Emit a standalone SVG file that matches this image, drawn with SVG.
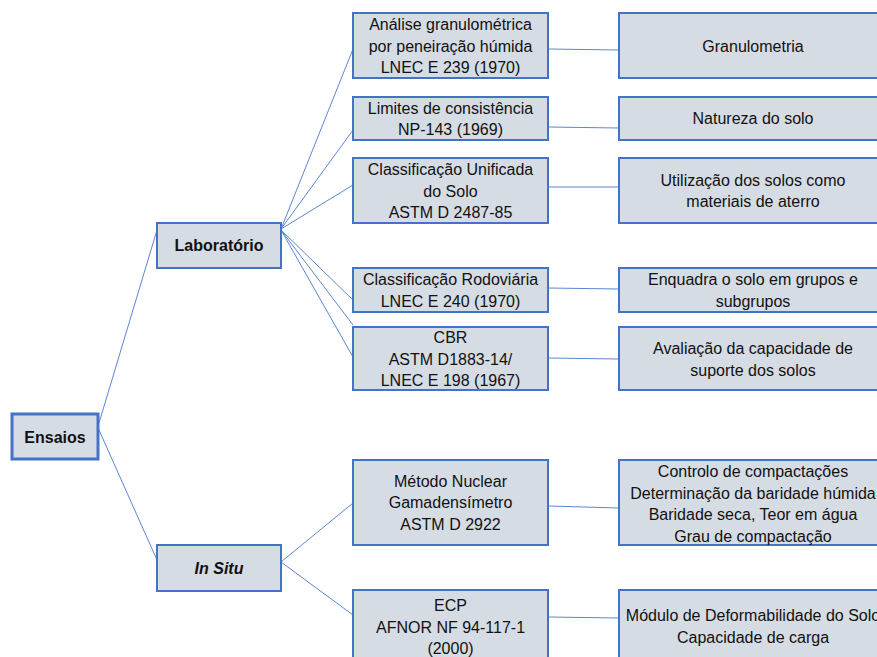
<svg xmlns="http://www.w3.org/2000/svg" width="877" height="657" viewBox="0 0 877 657">
<style>
.box{fill:#D6DCE4;stroke:#4472C4;stroke-width:2}
.main{stroke-width:3}
.t{font-family:"Liberation Sans",Arial,sans-serif;font-size:16px;fill:#111;text-anchor:middle}
.b{font-weight:bold}
.bi{font-weight:bold;font-style:italic}
.c{stroke:#5B87D3;stroke-width:1;fill:none}
</style>
<rect width="877" height="657" fill="#fff"/>
<g id="connectors">
<line class="c" x1="99" y1="423" x2="157" y2="230"/>
<line class="c" x1="99" y1="430" x2="157" y2="560"/>
<line class="c" x1="281" y1="229" x2="353" y2="49"/>
<line class="c" x1="281" y1="229" x2="353" y2="130"/>
<line class="c" x1="281" y1="229" x2="353" y2="185"/>
<line class="c" x1="281" y1="230" x2="353" y2="300"/>
<line class="c" x1="281" y1="230" x2="353" y2="325"/>
<line class="c" x1="281" y1="230" x2="353" y2="357"/>
<line class="c" x1="281" y1="562" x2="353" y2="503"/>
<line class="c" x1="281" y1="562" x2="353" y2="615"/>
<line class="c" x1="548" y1="49" x2="619" y2="50"/>
<line class="c" x1="548" y1="127" x2="619" y2="128"/>
<line class="c" x1="548" y1="187" x2="619" y2="187"/>
<line class="c" x1="548" y1="288" x2="619" y2="289"/>
<line class="c" x1="548" y1="358" x2="619" y2="359"/>
<line class="c" x1="548" y1="506" x2="619" y2="508"/>
<line class="c" x1="548" y1="617" x2="619" y2="618"/>
</g>
<g id="ensaios">
<rect class="box main" x="12" y="414" width="86" height="45"/>
<text class="t b" x="55" y="443">Ensaios</text>
</g>
<g id="laboratorio">
<rect class="box" x="157" y="223" width="124" height="45"/>
<text class="t b" x="219" y="251">Laboratório</text>
</g>
<g id="insitu">
<rect class="box" x="157" y="545" width="124" height="46"/>
<text class="t bi" x="219" y="574">In Situ</text>
</g>
<g id="m1">
<rect class="box" x="353" y="13" width="195" height="65"/>
<text class="t" x="450.5" y="30">Análise granulométrica</text>
<text class="t" x="450.5" y="51.5">por peneiração húmida</text>
<text class="t" x="450.5" y="73">LNEC E 239 (1970)</text>
</g>
<g id="m2">
<rect class="box" x="353" y="97" width="195" height="43"/>
<text class="t" x="450.5" y="113.5">Limites de consistência</text>
<text class="t" x="450.5" y="135">NP-143 (1969)</text>
</g>
<g id="m3">
<rect class="box" x="353" y="158" width="195" height="65"/>
<text class="t" x="450.5" y="175">Classificação Unificada</text>
<text class="t" x="450.5" y="196.5">do Solo</text>
<text class="t" x="450.5" y="218">ASTM D 2487-85</text>
</g>
<g id="m4">
<rect class="box" x="353" y="268" width="195" height="44"/>
<text class="t" x="450.5" y="285">Classificação Rodoviária</text>
<text class="t" x="450.5" y="306.5">LNEC E 240 (1970)</text>
</g>
<g id="m5">
<rect class="box" x="353" y="327" width="195" height="63"/>
<text class="t" x="450.5" y="343">CBR</text>
<text class="t" x="450.5" y="364.5">ASTM D1883-14/</text>
<text class="t" x="450.5" y="386">LNEC E 198 (1967)</text>
</g>
<g id="m6">
<rect class="box" x="353" y="460" width="195" height="85"/>
<text class="t" x="450.5" y="486.5">Método Nuclear</text>
<text class="t" x="450.5" y="508">Gamadensímetro</text>
<text class="t" x="450.5" y="529.5">ASTM D 2922</text>
</g>
<g id="m7">
<rect class="box" x="353" y="590" width="195" height="80"/>
<text class="t" x="450.5" y="611">ECP</text>
<text class="t" x="450.5" y="632.5">AFNOR NF 94-117-1</text>
<text class="t" x="450.5" y="654">(2000)</text>
</g>
<g id="r1">
<rect class="box" x="619" y="13" width="268" height="65"/>
<text class="t" x="753" y="51.5">Granulometria</text>
</g>
<g id="r2">
<rect class="box" x="619" y="97" width="268" height="43"/>
<text class="t" x="753" y="124">Natureza do solo</text>
</g>
<g id="r3">
<rect class="box" x="619" y="158" width="268" height="65"/>
<text class="t" x="753" y="185.5">Utilização dos solos como</text>
<text class="t" x="753" y="207">materiais de aterro</text>
</g>
<g id="r4">
<rect class="box" x="619" y="268" width="268" height="44"/>
<text class="t" x="753" y="285">Enquadra o solo em grupos e</text>
<text class="t" x="753" y="306.5">subgrupos</text>
</g>
<g id="r5">
<rect class="box" x="619" y="327" width="268" height="63"/>
<text class="t" x="753" y="354">Avaliação da capacidade de</text>
<text class="t" x="753" y="375.5">suporte dos solos</text>
</g>
<g id="r6">
<rect class="box" x="619" y="460" width="268" height="85"/>
<text class="t" x="753" y="477">Controlo de compactações</text>
<text class="t" x="753" y="498.5">Determinação da baridade húmida</text>
<text class="t" x="753" y="520">Baridade seca, Teor em água</text>
<text class="t" x="753" y="541.5">Grau de compactação</text>
</g>
<g id="r7">
<rect class="box" x="619" y="590" width="268" height="80"/>
<text class="t" x="753" y="621">Módulo de Deformabilidade do Solo</text>
<text class="t" x="753" y="642.5">Capacidade de carga</text>
</g>
</svg>
